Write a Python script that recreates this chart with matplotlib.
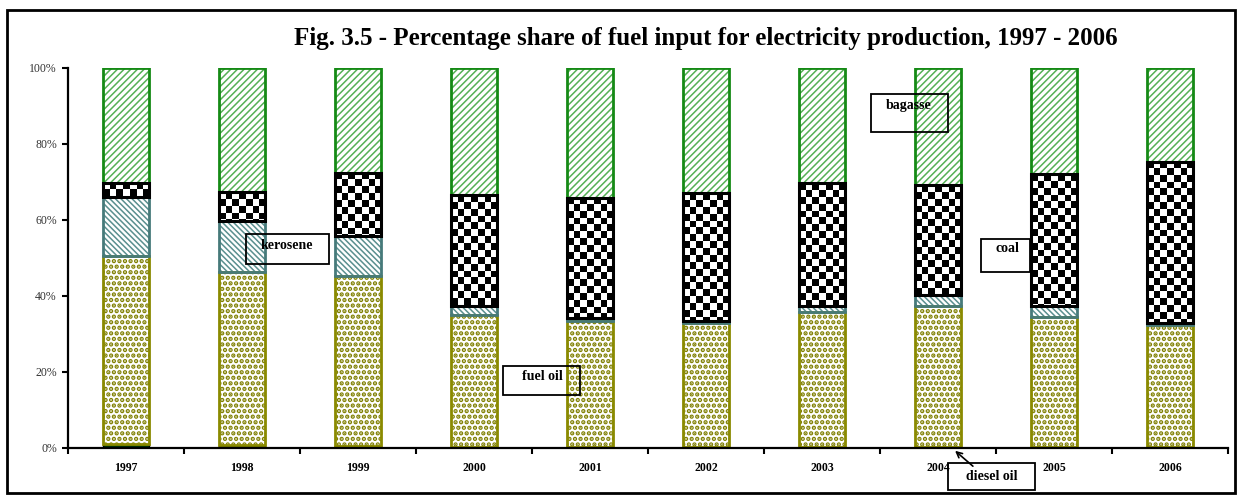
import numpy as np
import matplotlib
matplotlib.use("Agg")
import matplotlib.pyplot as plt
from matplotlib.patches import Rectangle

plt.rcParams['font.family'] = ['Liberation Serif', 'DejaVu Serif']
plt.rcParams['hatch.linewidth'] = 1.1

years = ['1997', '1998', '1999', '2000', '2001', '2002', '2003', '2004', '2005', '2006']
diesel_oil = [1.0, 0.8, 0.6, 0.3, 0.3, 0.3, 0.3, 0.3, 0.3, 0.3]
fuel_oil = [49.5, 45.4, 44.7, 34.7, 33.2, 32.5, 35.6, 37.2, 34.3, 32.2]
kerosene = [15.5, 13.6, 10.6, 2.5, 0.6, 0.7, 1.6, 2.8, 2.8, 0.3]
coal = [3.8, 7.6, 16.6, 29.1, 31.8, 33.5, 32.2, 28.9, 34.6, 42.5]
bagasse = [30.2, 32.6, 27.5, 33.4, 34.1, 33.0, 30.3, 30.8, 28.0, 24.7]

W, H = 1238, 495
fig = plt.figure(figsize=(W / 100, H / 100), dpi=100)
ax = fig.add_axes([68 / W, 1 - 448 / H, (1228 - 68) / W, (448 - 68) / H])

x = np.arange(len(years))
bw = 0.405
bottom = np.zeros(len(years))


def hatched(vals, bottom, hatch, hcol, ecol, lw=2.0, z=2, hlw=1.1):
    # hatch in its own colour, then the outline on top
    with plt.rc_context({'hatch.linewidth': hlw}):
        ax.bar(x, vals, bw, bottom=bottom, color='white', edgecolor=hcol, hatch=hatch, lw=0, zorder=z)
    ax.bar(x, vals, bw, bottom=bottom, color='none', edgecolor=ecol, lw=lw, zorder=z + 0.1)


# diesel oil
ax.bar(x, diesel_oil, bw, bottom=bottom, color='#003300', edgecolor='black', lw=1.0, zorder=2)
bottom += diesel_oil
# fuel oil
hatched(fuel_oil, bottom, '...', '#7f7f00', '#8a8a00', hlw=2.2)
bottom += fuel_oil
# kerosene
hatched(kerosene, bottom, '\\\\\\\\\\\\', '#5a8f8f', '#467a7a')
bottom += kerosene
# coal - checkerboard fill clipped to each bar
coal_bars = ax.bar(x, coal, bw, bottom=bottom, color='none', edgecolor='black', lw=2.2, zorder=3)
sq_x = bw / 7
sq_y = 1.8
for i, b in enumerate(coal_bars):
    y0, h = bottom[i], coal[i]
    nr = int(np.ceil(h / sq_y)) + 1
    board = (np.indices((nr, 7)).sum(axis=0) % 2).astype(float)
    im = ax.imshow(board, cmap='gray', interpolation='nearest', aspect='auto',
                   extent=(x[i] - bw / 2, x[i] - bw / 2 + 7 * sq_x, y0 + h, y0 + h - nr * sq_y),
                   zorder=2.5)
    im.set_clip_path(b)
bottom += coal
# bagasse
hatched(bagasse, bottom, '/////', '#55b055', '#158a15')

ax.set_xlim(-0.5, len(years) - 0.5)
ax.set_ylim(0, 100)

for s in ['top', 'right']:
    ax.spines[s].set_visible(False)
ax.spines['left'].set_linewidth(1.6)
ax.spines['bottom'].set_linewidth(1.6)
ax.spines['bottom'].set_zorder(5)

ax.set_yticks(np.arange(0, 101, 20))
ax.set_yticklabels(['%d%%' % v for v in range(0, 101, 20)], fontsize=8.5, color='#333333')
ax.tick_params(axis='y', direction='out', length=4, width=1.5, pad=4)
ax.set_xticks(np.arange(len(years) + 1) - 0.5)
ax.set_xticklabels([''] * (len(years) + 1))
ax.tick_params(axis='x', which='major', direction='out', length=4, width=1.5)
ax.set_xticks(x, minor=True)
ax.set_xticklabels(years, minor=True, fontsize=8.5, fontweight='bold')
ax.tick_params(axis='x', which='minor', length=0, pad=10)

fig.text(706 / W, 1 - 38 / H, 'Fig. 3.5 - Percentage share of fuel input for electricity production, 1997 - 2006',
         ha='center', va='center', fontsize=18, fontweight='bold')


def label_box(x0, y0, x1, y1, text, tx, ty):
    fig.add_artist(Rectangle((x0 / W, 1 - y1 / H), (x1 - x0) / W, (y1 - y0) / H,
                             transform=fig.transFigure, facecolor='none', edgecolor='black', lw=1.3, zorder=6))
    fig.text(tx / W, 1 - ty / H, text, ha='center', va='center', fontsize=10, fontweight='bold', zorder=7)


label_box(246, 234, 329, 264, 'kerosene', 287, 245)
label_box(503, 366, 580, 395, 'fuel oil', 542, 377)
label_box(871, 94, 948, 132, 'bagasse', 909, 105)
label_box(981, 239, 1030, 272, 'coal', 1007, 249)
label_box(948, 463, 1035, 490, 'diesel oil', 992, 476)

ax.annotate('', xy=(953 / W, 1 - 449 / H), xytext=(975 / W, 1 - 468 / H),
            xycoords='figure fraction', textcoords='figure fraction',
            arrowprops=dict(arrowstyle='->', color='black', lw=1.2), zorder=8)

fig.add_artist(Rectangle((7 / W, 1 - 493 / H), (1235 - 7) / W, (493 - 10) / H,
                         transform=fig.transFigure, facecolor='none', edgecolor='black', lw=2.0))

fig.savefig('out.png', dpi=100)
